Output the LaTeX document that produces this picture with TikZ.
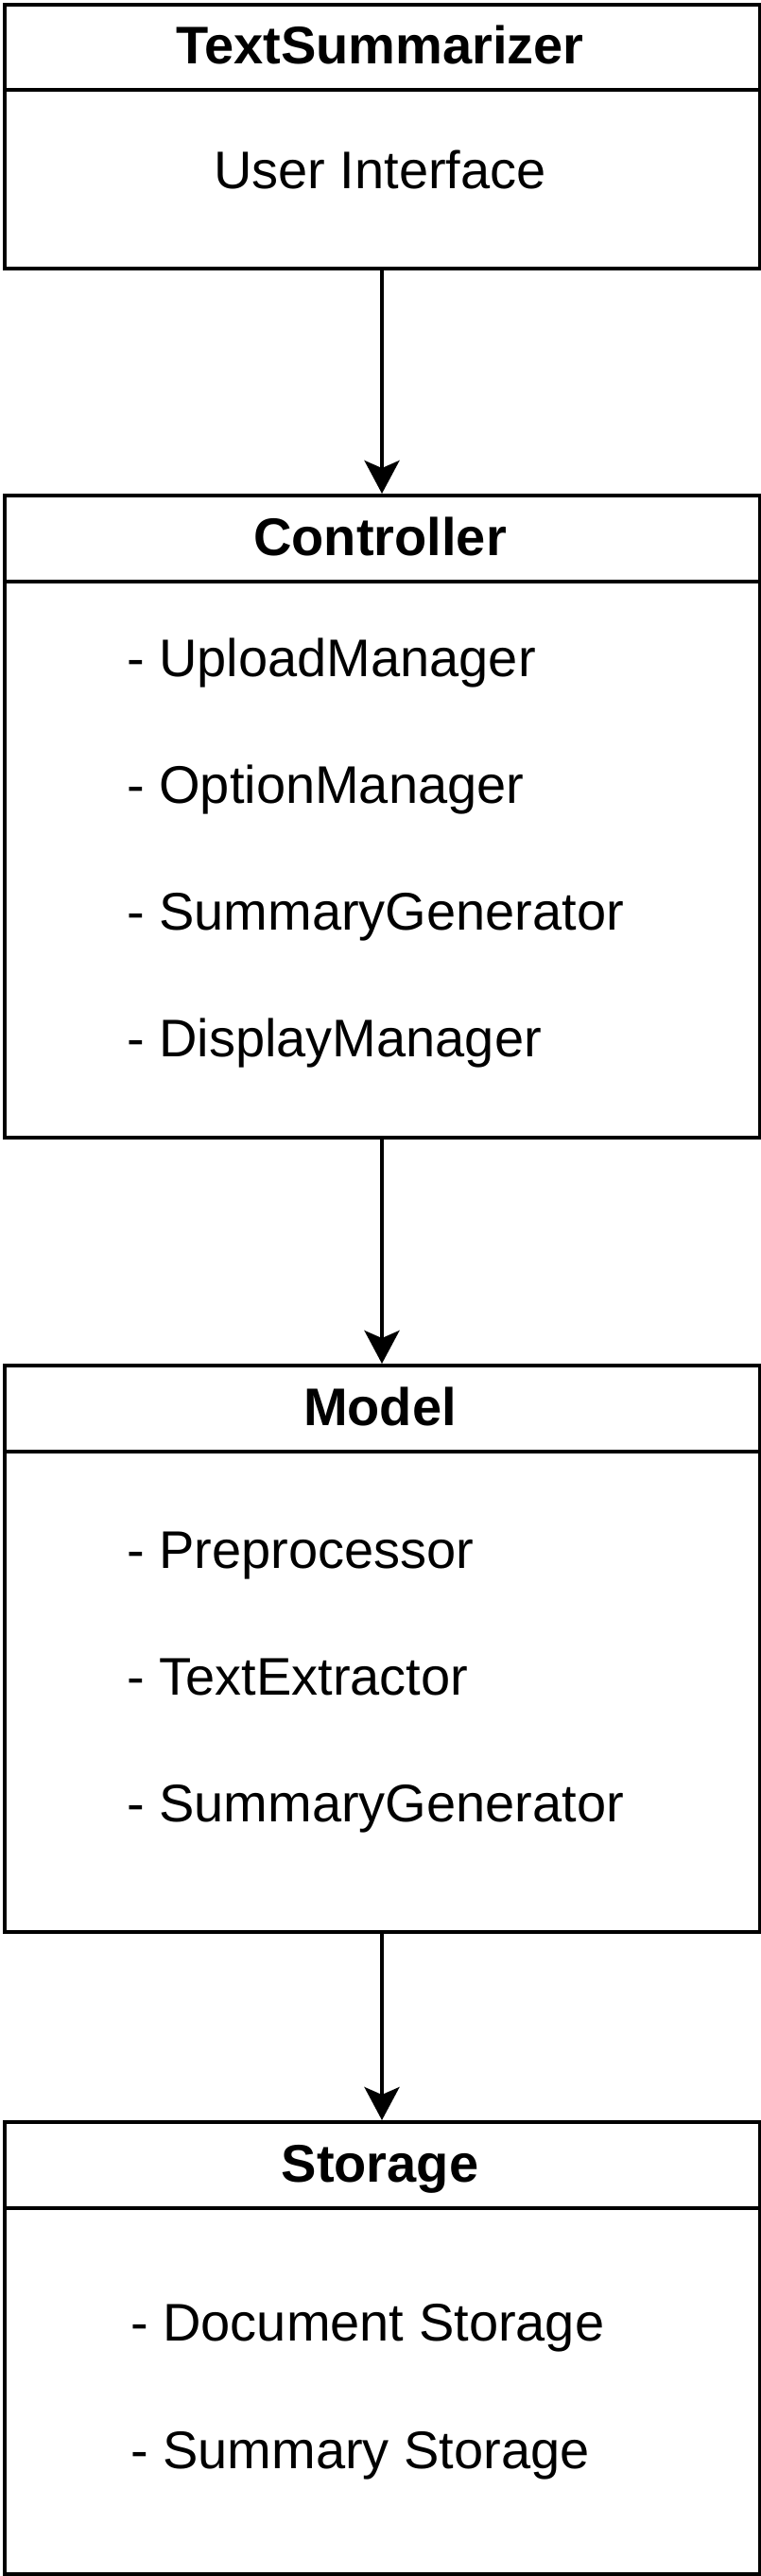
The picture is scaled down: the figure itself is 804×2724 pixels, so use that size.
\documentclass[tikz,border=0pt]{standalone}
\usepackage{fontspec}
\setmainfont{Liberation Sans}
\usetikzlibrary{arrows.meta}
\begin{document}
\begin{tikzpicture}[x=1pt,y=-1pt,
  box/.style={draw, line width=4pt, inner sep=0pt, minimum width=799pt, anchor=north west},
  title/.style={font=\fontsize{56}{67}\selectfont\bfseries, anchor=base, inner sep=0pt},
  item/.style={font=\fontsize{56}{67}\selectfont, anchor=base west, inner sep=0pt},
  link/.style={line width=4pt, -{Stealth[length=35pt,width=37pt,inset=8pt]}}]
\useasboundingbox (0,0) rectangle (804,2724);
% boxes
\node[box, minimum height=90pt]  (h1) at (2.5,3) {};
\node[box, minimum height=189pt] (b1) at (2.5,93) {};
\node[box, minimum height=91pt]  (h2) at (2.5,522) {};
\node[box, minimum height=588pt] (b2) at (2.5,613) {};
\node[box, minimum height=91pt]  (h3) at (2.5,1442) {};
\node[box, minimum height=508pt] (b3) at (2.5,1533) {};
\node[box, minimum height=91pt]  (h4) at (2.5,2242) {};
\node[box, minimum height=387pt] (b4) at (2.5,2333) {};
% titles
\node[title] (t1) at (402,68) {TextSummarizer};
\node[title] (t2) at (402,587.5) {Controller};
\node[title] (t3) at (402,1507.5) {Model};
\node[title] (t4) at (402,2307.5) {Storage};
% items
\node[item, anchor=base] (ui) at (402,200) {User Interface};
\node[item] (c1) at (134,715) {- UploadManager};
\node[item] (c2) at (134,849) {- OptionManager};
\node[item] (c3) at (134,983) {- SummaryGenerator};
\node[item] (c4) at (134,1117) {- DisplayManager};
\node[item] (m1) at (134,1658) {- Preprocessor};
\node[item] (m2) at (134,1792) {- TextExtractor};
\node[item] (m3) at (134,1926) {- SummaryGenerator};
\node[item] (s1) at (138,2475) {- Document Storage};
\node[item] (s2) at (138,2610) {- Summary Storage};
% connectors
\draw[link] (b1.south) -- (h2.north);
\draw[link] (b2.south) -- (h3.north);
\draw[link] (b3.south) -- (h4.north);
\end{tikzpicture}
\end{document}
